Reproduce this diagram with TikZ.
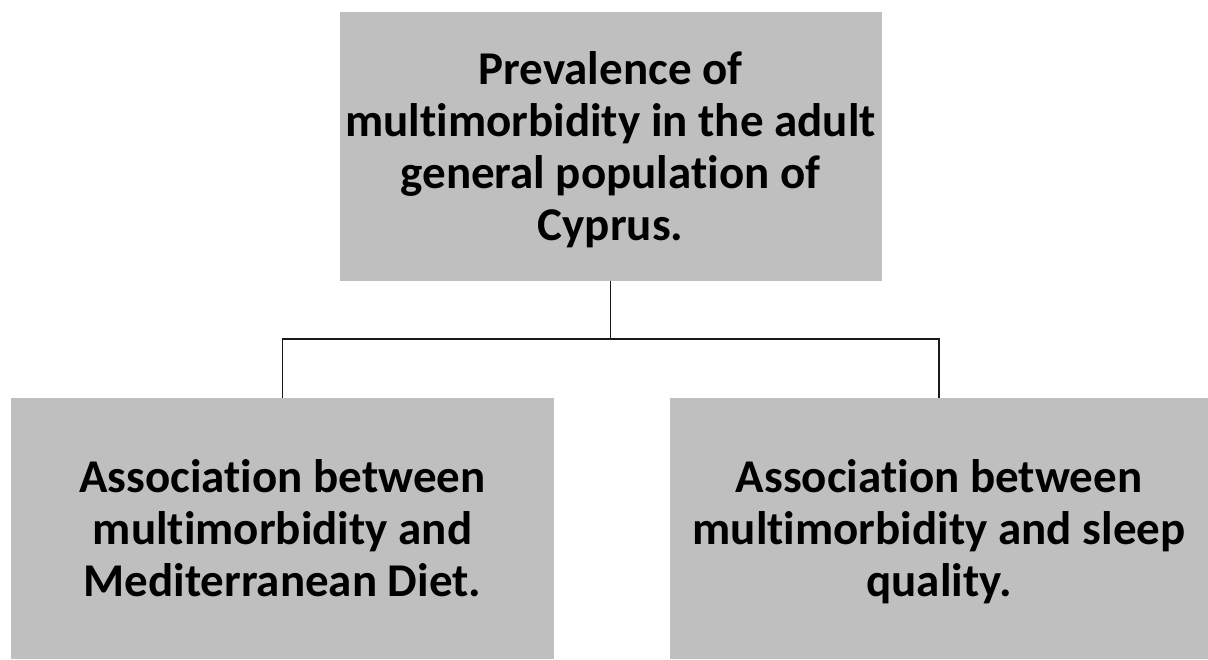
\documentclass[tikz,border=0pt]{standalone}
\usepackage{fontspec}
\setmainfont[Ligatures=NoCommon]{Carlito}
\definecolor{boxgray}{HTML}{BFBFBF}
\begin{document}
\begin{tikzpicture}[x=1pt,y=-1pt,
  box/.style={fill=boxgray, draw=none, inner sep=0pt, align=center, text depth=0pt,
    font=\fontsize{47}{52}\selectfont\bfseries, text=black},
  conn/.style={draw=black!90, line width=1.8pt}]
\useasboundingbox (0,0) rectangle (1208,659);
\node[box, minimum width=542pt, minimum height=269pt] (top) at (610.5,146.5)
  {Prevalence of\\multimorbidity in the adult\\general population of\\Cyprus.};
\node[box, minimum width=543pt, minimum height=261pt] (left) at (282.5,528.5)
  {Association between\\multimorbidity and\\Mediterranean Diet.};
\node[box, minimum width=538pt, minimum height=261pt] (right) at (939,528.5)
  {Association between\\multimorbidity and sleep\\quality.};
\coordinate (j) at (610.5,339);
\draw[conn] (top.south) -- (j);
\draw[conn] (left.north) |- (j) -| (right.north);
\end{tikzpicture}
\end{document}
